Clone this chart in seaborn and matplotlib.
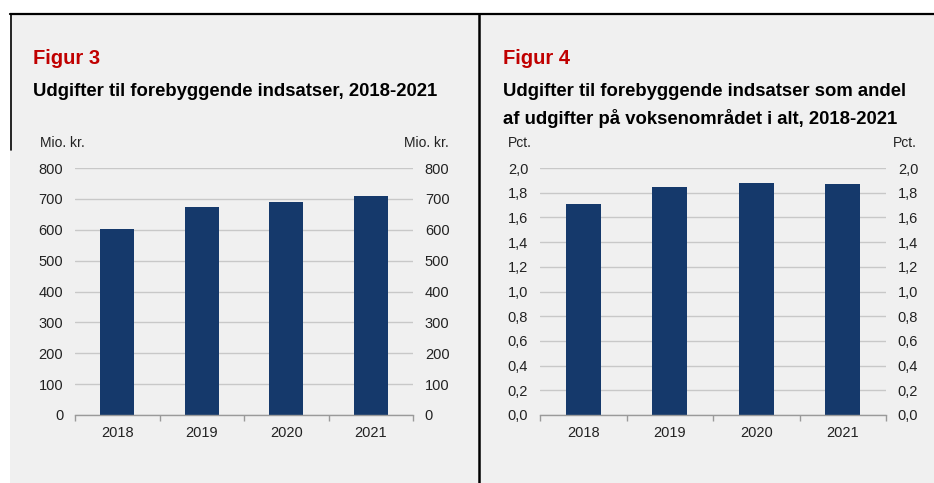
import matplotlib
matplotlib.use("Agg")
import matplotlib.pyplot as plt
from matplotlib.patches import Rectangle
from matplotlib.lines import Line2D
from matplotlib.ticker import FuncFormatter
import seaborn as sns
import pandas as pd

# data
years = ["2018", "2019", "2020", "2021"]
udgifter_mio = [604, 675, 689, 709]
andel_pct = [1.71, 1.85, 1.88, 1.87]

sns.set_theme(style="white")
plt.rcParams["font.family"] = ["Liberation Sans", "DejaVu Sans"]

W, H = 934, 483
fig = plt.figure(figsize=(W / 100, H / 100), dpi=100, facecolor="white")

BAR = "#15396b"
GRID = "#c8c8c8"
AXIS = "#9a9a9a"
RED = "#c00000"


def px_ax(x0, y0, x1, y1):
    # pixel box (top-left origin) -> axes
    return fig.add_axes([x0 / W, 1 - y1 / H, (x1 - x0) / W, (y1 - y0) / H])


def ftext(x, y, s, **kw):
    fig.text(x / W, 1 - y / H, s, **kw)


# panel background and frame lines
fig.patches.append(Rectangle((10 / W, 0), 1 - 10 / W, 1 - 14 / H, transform=fig.transFigure,
                             facecolor="#f0f0f0", edgecolor="none", zorder=-10))
fig.lines.append(Line2D([10 / W, 1], [1 - 14 / H] * 2, transform=fig.transFigure, color="black", lw=1.6))
fig.lines.append(Line2D([479 / W] * 2, [0, 1 - 14 / H], transform=fig.transFigure, color="black", lw=1.8))
fig.lines.append(Line2D([10.5 / W] * 2, [1 - 150 / H, 1 - 14 / H], transform=fig.transFigure, color="black", lw=1.2))


def style_axis(ax, ymax, step, fmt):
    ax.set_facecolor("none")
    ax.set_ylim(0, ymax)
    ax.set_xlim(-0.5, len(years) - 0.5)
    ticks = [i * step for i in range(int(round(ymax / step)) + 1)]
    ax.set_yticks(ticks)
    ax.yaxis.set_major_formatter(FuncFormatter(fmt))
    ax.grid(axis="y", color=GRID, lw=1.0)
    ax.set_axisbelow(True)
    for s in ["top", "left", "right"]:
        ax.spines[s].set_visible(False)
    ax.spines["bottom"].set_color(AXIS)
    ax.spines["bottom"].set_linewidth(1.0)
    ax.tick_params(axis="y", length=0, labelsize=10.5, labelcolor="#222222",
                   labelleft=True, labelright=True, pad=8.5)
    ax.tick_params(axis="x", which="major", length=0, labelsize=10.5, labelcolor="#222222", pad=8)
    ax.set_xticks([i - 0.5 for i in range(len(years) + 1)], minor=True)
    ax.tick_params(axis="x", which="minor", bottom=True, length=4, width=1,
                   color=AXIS, direction="out")
    ax.set_xlabel("")
    ax.set_ylabel("")


# Figur 3
ax1 = px_ax(75, 168, 413, 415)
df1 = pd.DataFrame({"year": years, "value": udgifter_mio})
sns.barplot(data=df1, x="year", y="value", color=BAR, width=0.4, saturation=1,
            linewidth=0, ax=ax1)
style_axis(ax1, 800, 100, lambda v, p: f"{v:.0f}")

# Figur 4
ax2 = px_ax(540, 168, 886, 415)
df2 = pd.DataFrame({"year": years, "value": andel_pct})
sns.barplot(data=df2, x="year", y="value", color=BAR, width=0.4, saturation=1,
            linewidth=0, ax=ax2)
style_axis(ax2, 2.0, 0.2, lambda v, p: f"{v:.1f}".replace(".", ","))

# titles
ftext(33, 64, "Figur 3", color=RED, fontsize=14.5, fontweight="bold", va="baseline")
ftext(33, 96, "Udgifter til forebyggende indsatser, 2018-2021", fontsize=13.3,
      fontweight="bold", va="baseline", color="black")
ftext(503, 64, "Figur 4", color=RED, fontsize=14.5, fontweight="bold", va="baseline")
ftext(503, 96, "Udgifter til forebyggende indsatser som andel", fontsize=13.3,
      fontweight="bold", va="baseline", color="black")
ftext(503, 124, "af udgifter på voksenområdet i alt, 2018-2021", fontsize=13.3,
      fontweight="bold", va="baseline", color="black")

# unit labels
ftext(40, 143, "Mio. kr.", fontsize=10, va="center", ha="left", color="#222222")
ftext(449, 143, "Mio. kr.", fontsize=10, va="center", ha="right", color="#222222")
ftext(508, 143, "Pct.", fontsize=10, va="center", ha="left", color="#222222")
ftext(917, 143, "Pct.", fontsize=10, va="center", ha="right", color="#222222")

fig.savefig("out.png", dpi=100, facecolor="white")
